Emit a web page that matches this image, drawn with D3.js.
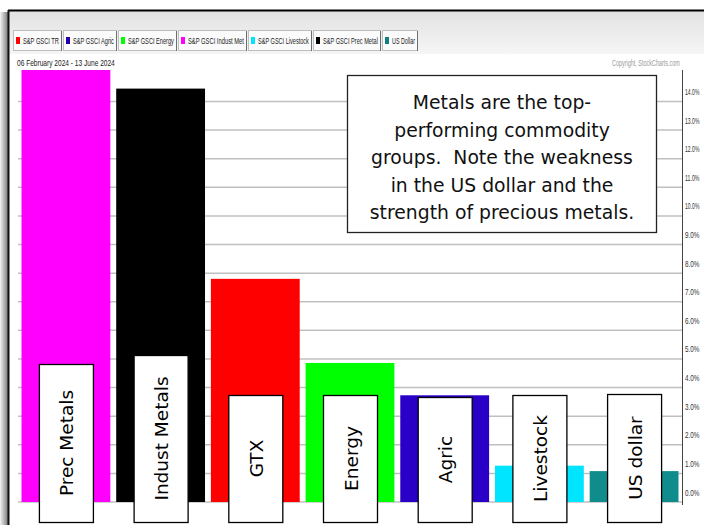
<!DOCTYPE html>
<html>
<head>
<meta charset="utf-8">
<script src="https://cdn.jsdelivr.net/npm/d3@7"></script>
<style>
  html, body { margin: 0; padding: 0; background: #fff; }
  svg { display: block; }
</style>
</head>
<body>
<div id="chart"></div>
<script>

/*******************************/
/*    Data                     */
/*******************************/
const groups = ["Prec Metals", "Indust Metals", "GTX", "Energy", "Agric", "Livestock", "US dollar"];
const changes = [15.1, 14.45, 7.8, 4.86, 3.73, 1.27, 1.08];   // % change, 06 Feb - 13 Jun 2024
const barColors = ["#ff00ff", "#000000", "#ff0000", "#00ff00", "#2a00c8", "#00e5ff", "#118c8c"];

const legendNames = ["S&P GSCI TR", "S&P GSCI Agric", "S&P GSCI Energy", "S&P GSCI Indust Met",
                     "S&P GSCI Livestock", "S&P GSCI Prec Metal", "US Dollar"];
const legendColors = ["#ff0000", "#2200aa", "#00ff00", "#ff00ff", "#00e5ff", "#000000", "#117f86"];

const yTicks = [0, 1, 2, 3, 4, 5, 6, 7, 8, 9, 10, 11, 12, 13, 14];

const dateRange = "06 February 2024 - 13 June 2024";
const noteLines = ["Metals are the top-", "performing commodity", "groups.  Note the weakness",
                   "in the US dollar and the", "strength of precious metals."];

/*******************************/
/*    Constants                */
/*******************************/
const width = 704;
const height = 525;
const margin = {top: 70, right: 22, bottom: 23, left: 18};
const innerWidth = width - margin.left - margin.right;
const innerHeight = height - margin.top - margin.bottom;
const smallFont = "Liberation Sans, Arial, sans-serif";

const svg = d3.select("#chart")
  .append("svg")
    .attr("width", width)
    .attr("height", height)
    .attr("viewBox", `0 0 ${width} ${height}`);

// squeeze a small text horizontally so it fills the given width (StockCharts uses a condensed font)
const condense = (sel, x, y, w, anchor) => {
  sel.each(function() {
    const natural = this.getComputedTextLength();
    const sx = Math.min(1, w / natural);
    const dx = anchor === "end" ? -natural * sx : 0;
    d3.select(this).attr("transform", `translate(${x + dx}, ${y}) scale(${sx}, 1)`);
  });
};

const defs = svg.append("defs");

// left shadow of the window frame
const shadow = defs.append("linearGradient").attr("id", "shadow");
shadow.append("stop").attr("offset", "0%").attr("stop-color", "#f4f4f4");
shadow.append("stop").attr("offset", "100%").attr("stop-color", "#7a7a7a");

const header = defs.append("linearGradient").attr("id", "header")
  .attr("x1", 0).attr("x2", 0).attr("y1", 0).attr("y2", 1);
header.append("stop").attr("offset", "0%").attr("stop-color", "#e2e2e2");
header.append("stop").attr("offset", "100%").attr("stop-color", "#f6f6f6");

/*******************************/
/*    Frame                    */
/*******************************/
svg.append("rect")
  .attr("x", 0).attr("y", 12).attr("width", 8).attr("height", height - 12)
  .attr("fill", "url(#shadow)");

svg.append("rect")
  .attr("x", 9).attr("y", 11).attr("width", width - 9).attr("height", 44)
  .attr("fill", "url(#header)");

svg.append("line")
  .attr("x1", 8).attr("x2", width).attr("y1", 10.5).attr("y2", 10.5)
  .attr("stroke", "#000").attr("stroke-width", 2);
svg.append("line")
  .attr("x1", 8.5).attr("x2", 8.5).attr("y1", 10).attr("y2", height)
  .attr("stroke", "#111").attr("stroke-width", 2);

// white chart area under the legend
svg.append("rect")
  .attr("x", 10).attr("y", 54).attr("width", width - 10).attr("height", height - 54)
  .attr("fill", "#fff");

/*******************************/
/*    Legend                   */
/*******************************/
const legendX = [13, 63, 118, 178, 248, 313, 382];
const legendW = [49, 54, 59, 69, 64, 68, 36];

const legend = svg.append("g").attr("transform", "translate(0, 30)");
legendNames.forEach((name, i) => {
  const item = legend.append("g").attr("transform", `translate(${legendX[i]}, 0)`);
  item.append("rect")
    .attr("x", 0.5).attr("y", 0.5).attr("width", legendW[i] - 1).attr("height", 20)
    .attr("fill", "#fbfbfb").attr("stroke", "#bdbdbd");
  item.append("line")
    .attr("x1", legendW[i] - 0.5).attr("x2", legendW[i] - 0.5).attr("y1", 1).attr("y2", 21)
    .attr("stroke", "#6e6e6e");
  item.append("rect")
    .attr("x", 3).attr("y", 7).attr("width", 4).attr("height", 7)
    .attr("fill", legendColors[i]);
  item.append("text")
    .attr("font-family", smallFont)
    .attr("font-size", 8.5)
    .attr("fill", "#222")
    .text(name)
    .call(condense, 10, 13.5, legendW[i] - 13);
});

svg.append("text")
  .attr("font-family", smallFont)
  .attr("font-size", 9)
  .attr("fill", "#222")
  .text(dateRange)
  .call(condense, 17, 66, 98);

svg.append("text")
  .attr("font-family", smallFont)
  .attr("font-size", 8.5)
  .attr("fill", "#9a9a9a")
  .text("Copyright, StockCharts.com")
  .call(condense, 680, 66, 68, "end");

/*******************************/
/*    Scales and axes          */
/*******************************/
const innerChart = svg.append("g")
  .attr("transform", `translate(${margin.left}, ${margin.top})`);

const xScale = d3.scaleBand()
  .domain(groups)
  .range([0, innerWidth])
  .paddingInner(0.062)
  .paddingOuter(0.037);

const yScale = d3.scaleLinear()
  .domain([0, 15.1])
  .range([innerHeight, 0]);

// horizontal grid
innerChart.append("g")
  .selectAll("line")
  .data(yTicks)
  .join("line")
    .attr("x1", 0)
    .attr("x2", innerWidth)
    .attr("y1", d => yScale(d))
    .attr("y2", d => yScale(d))
    .attr("stroke", "#c0c0c0")
    .attr("stroke-width", 1.5);

// right axis, labels sitting just above each grid line
const rightAxis = d3.axisRight(yScale)
  .tickValues(yTicks)
  .tickSize(0)
  .tickFormat(d => d3.format(".1f")(d) + "%");

const axisG = innerChart.append("g")
  .attr("transform", `translate(${innerWidth}, 0)`)
  .call(rightAxis);
axisG.select(".domain")
  .attr("stroke", "#444")
  .attr("d", `M0.5,0V${innerHeight + 3}`);
axisG.selectAll(".tick text")
  .attr("x", null)
  .attr("dy", null)
  .attr("font-family", smallFont)
  .attr("font-size", 9)
  .attr("fill", "#333")
  .call(condense, 3, -7, 14.5);

/*******************************/
/*    Bars                     */
/*******************************/
innerChart.append("g")
  .selectAll("rect")
  .data(groups)
  .join("rect")
    .attr("x", d => xScale(d))
    .attr("y", (d, i) => yScale(changes[i]))
    .attr("width", xScale.bandwidth())
    .attr("height", (d, i) => innerHeight - yScale(changes[i]))
    .attr("fill", (d, i) => barColors[i]);

/*******************************/
/*    Annotations              */
/*******************************/
const labelFont = "DejaVu Sans, Verdana, sans-serif";
const labelBoxWidth = 54;
const labelBoxTop = [364, 355, 395, 395, 397, 395, 394];   // page y of each label box
const labelBoxBottom = 522;

groups.forEach((g, i) => {
  const cx = margin.left + xScale(g) + xScale.bandwidth() / 2;
  const top = labelBoxTop[i];
  const cy = (top + labelBoxBottom) / 2;
  svg.append("rect")
    .attr("x", cx - labelBoxWidth / 2 + 0.5)
    .attr("y", top + 0.5)
    .attr("width", labelBoxWidth)
    .attr("height", labelBoxBottom - top)
    .attr("fill", "#fff")
    .attr("stroke", "#000")
    .attr("stroke-width", 1.3);
  svg.append("text")
    .attr("transform", `translate(${cx + 1}, ${cy}) rotate(-90)`)
    .attr("text-anchor", "middle")
    .attr("dominant-baseline", "central")
    .attr("font-family", labelFont)
    .attr("font-size", 18.5)
    .attr("fill", "#000")
    .text(g);
});

// comment box
const note = svg.append("g");
note.append("rect")
  .attr("x", 347.5).attr("y", 75.5).attr("width", 309).attr("height", 157)
  .attr("fill", "#fff").attr("stroke", "#222").attr("stroke-width", 1.3);
note.selectAll("text")
  .data(noteLines)
  .join("text")
    .attr("x", 502)
    .attr("y", (d, i) => 109 + i * 27.6)
    .attr("text-anchor", "middle")
    .attr("font-family", labelFont)
    .attr("font-size", 18.8)
    .attr("fill", "#111")
    .style("white-space", "pre")
    .text(d => d);

</script>
</body>
</html>
